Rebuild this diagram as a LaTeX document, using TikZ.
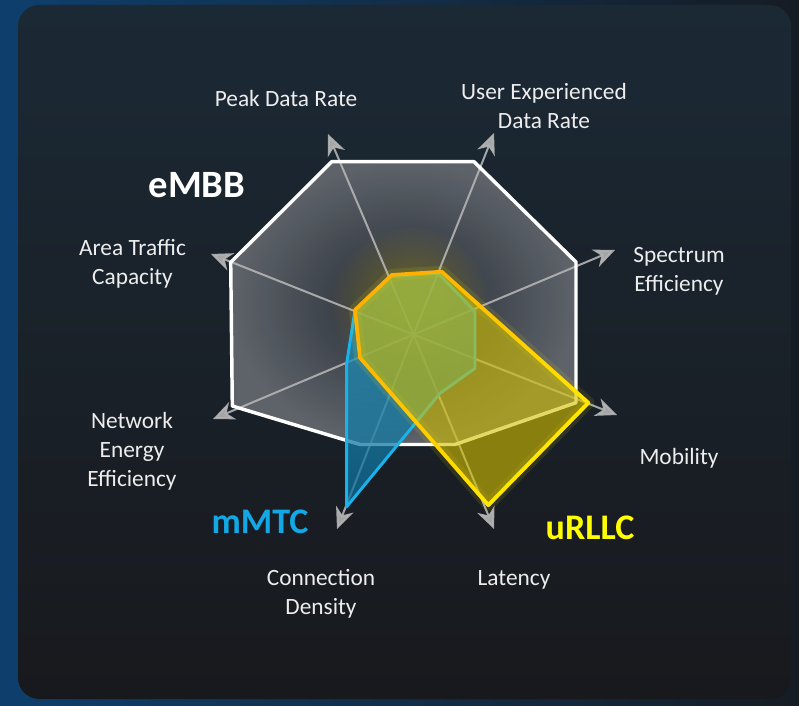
\documentclass[tikz,border=0pt]{standalone}
\usepackage{fontspec}
\setmainfont{Carlito}
\usetikzlibrary{arrows.meta,fadings}
\definecolor{outerblue}{HTML}{0E3F6C}
\definecolor{outerdark}{HTML}{161C24}
\definecolor{paneltop}{HTML}{1B2935}
\definecolor{panelbot}{HTML}{18191D}
\definecolor{octin}{HTML}{262C34}
\definecolor{octout}{HTML}{62676E}
\definecolor{axisgray}{HTML}{B4B4B4}
\definecolor{mfilltop}{HTML}{2A9CC4}
\definecolor{mfillbot}{HTML}{0C6C98}
\definecolor{mline}{HTML}{1AB2EA}
\definecolor{ufill}{HTML}{D4C000}
\definecolor{uorange}{HTML}{FFB000}
\definecolor{uyellow}{HTML}{FFF000}
\definecolor{labelc}{HTML}{EDEDED}
\definecolor{mmtcc}{HTML}{12A8E6}
\definecolor{urllcc}{HTML}{FFFF00}
\tikzfading[name=tlbr, top color=transparent!100, bottom color=transparent!0]
\tikzfading[name=glowfade, inner color=transparent!0, outer color=transparent!100]
\begin{document}
\begin{tikzpicture}[x=0.75pt,y=-0.75pt,
  axisline/.style={draw=axisgray, line width=1.5pt, opacity=.9,
    -{Stealth[length=16pt,width=14pt,inset=5pt]}},
  lbl/.style={text=labelc, align=center, font=\fontsize{17.5}{21.75}\selectfont, inner sep=0pt},
  ttl/.style={font=\fontsize{27}{32}\bfseries\selectfont, inner sep=0pt}]
\useasboundingbox (0,0) rectangle (799,706);
% background
\shade[left color=outerblue, right color=outerdark] (0,0) rectangle (799,706);
\shade[top color=paneltop, bottom color=panelbot, rounded corners=16pt] (18,5) rectangle (791,699);
% coordinates
\coordinate (c) at (413.5,334.5);
\coordinate (pk) at (328,134);
\coordinate (ue) at (494,133);
\coordinate (se) at (615,250);
\coordinate (mo) at (617,415);
\coordinate (la) at (494,529);
\coordinate (cd) at (337,529);
\coordinate (ne) at (213,419);
\coordinate (at) at (211,254);
% octagon vertices
\coordinate (o1) at (331.7,161.7);
\coordinate (o2) at (474,161.7);
\coordinate (o3) at (576,262);
\coordinate (o4) at (576,402.7);
\coordinate (o5) at (455,444.5);
\coordinate (o6) at (360,444.5);
\coordinate (o7) at (232.3,406);
\coordinate (o8) at (230.7,262.3);
% mMTC vertices
\coordinate (m1) at (391.7,276.5);
\coordinate (m2) at (438.3,273.3);
\coordinate (m3) at (475,311.7);
\coordinate (m4) at (475,368.3);
\coordinate (m5) at (440,393.3);
\coordinate (m6) at (346.7,506.7);
\coordinate (m7) at (346.7,363.3);
\coordinate (m8) at (355,310);
% uRLLC vertices
\coordinate (u1) at (391.7,275);
\coordinate (u2) at (441.7,271.7);
\coordinate (u3) at (588.3,402.7);
\coordinate (u4) at (488.3,505);
\coordinate (u5) at (360,357.7);
\coordinate (u6) at (355,310);
% eMBB fill
\shade[inner color=octin, outer color=octout, opacity=.95]
  (o1)--(o2)--(o3)--(o4)--(o5)--(o6)--(o7)--(o8)--cycle;
% center glow
\fill[yellow!75!orange, path fading=glowfade, opacity=.35] (410,305) circle (80);
% axes
\foreach \t in {pk,ue,se,mo,la,cd,ne,at}{\draw[axisline] (c) -- (\t);}
% eMBB outline
\draw[white, line width=2.6pt, line join=round]
  (o1)--(o2)--(o3)--(o4)--(o5)--(o6)--(o7)--(o8)--cycle;
% mMTC
\shade[top color=mfilltop, bottom color=mfillbot, opacity=.75]
  (m1)--(m2)--(m3)--(m4)--(m5)--(m6)--(m7)--(m8)--cycle;
\draw[mline, line width=2.2pt, line join=round]
  (m1)--(m2)--(m3)--(m4)--(m5)--(m6)--(m7)--(m8)--cycle;
% uRLLC
\draw[yellow, line width=9pt, opacity=.10, line join=round]
  (u1)--(u2)--(u3)--(u4)--(u5)--(u6)--cycle;
\fill[ufill, opacity=.6] (u1)--(u2)--(u3)--(u4)--(u5)--(u6)--cycle;
\draw[uorange, line width=2.8pt, line join=round]
  (u1)--(u2)--(u3)--(u4)--(u5)--(u6)--cycle;
\draw[uyellow, line width=2.8pt, line join=round, path fading=tlbr, fading angle=45]
  (u1)--(u2)--(u3)--(u4)--(u5)--(u6)--cycle;
% labels
\node[lbl] (lpk) at (286,98) {Peak Data Rate};
\node[lbl] (lue) at (544,106) {User Experienced\\Data Rate};
\node[lbl] (lse) at (679,271) {Spectrum\\Efficiency};
\node[lbl] (lmo) at (679,458) {Mobility};
\node[lbl] (lla) at (514,580) {Latency};
\node[lbl] (lcd) at (321,594) {Connection\\Density};
\node[lbl] (lne) at (132,451) {Network\\Energy\\Efficiency};
\node[lbl] (lat) at (132.5,264) {Area Traffic\\Capacity};
\node[ttl, text=white, font=\fontsize{29}{34}\bfseries\selectfont] (tembb) at (197,185) {eMBB};
\node[ttl, text=mmtcc] (tmmtc) at (260,522) {mMTC};
\node[ttl, text=urllcc] (turllc) at (590,528) {uRLLC};
\end{tikzpicture}
\end{document}
